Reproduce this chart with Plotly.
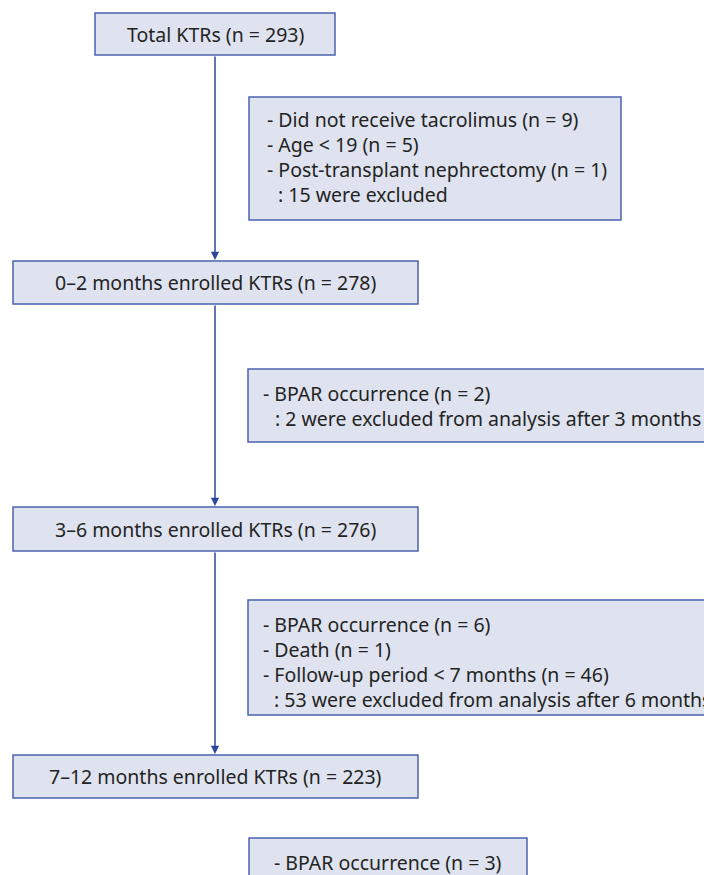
import plotly.graph_objects as go

# ---- content ----
main_labels = [
    "Total KTRs (n = 293)",
    "0–2 months enrolled KTRs (n = 278)",
    "3–6 months enrolled KTRs (n = 276)",
    "7–12 months enrolled KTRs (n = 223)",
]
excl_items = [
    ["- Did not receive tacrolimus (n = 9)", "- Age &lt; 19 (n = 5)", "- Post-transplant nephrectomy (n = 1)"],
    ["- BPAR occurrence (n = 2)"],
    ["- BPAR occurrence (n = 6)", "- Death (n = 1)", "- Follow-up period &lt; 7 months (n = 46)"],
    ["- BPAR occurrence (n = 3)"],
]
excl_summary = [
    ": 15 were excluded",
    ": 2 were excluded from analysis after 3 months",
    ": 53 were excluded from analysis after 6 months",
    None,
]

# ---- layout geometry (pixels) ----
W, H = 704, 875
main_boxes = [(95, 13, 335, 55), (13, 261, 418, 304), (13, 507, 418, 551), (13, 755, 418, 798)]
excl_boxes = [(249, 97, 621, 220), (248, 369, 712, 442), (248, 600, 712, 715), (249, 838, 527, 890)]
excl_first_y = [119, 393, 624, 862]
dash_off = [16, 13, 13]
colon_off = [27, 25, 24]
line_gap = 25
cx = 215

FILL = "#dfe3ef"
BORDER = "#4a63b0"
LINE = "#2d479c"
TXT = "#232323"
FONT = "Noto Sans"
FS = 19.5

fig = go.Figure()
shapes = []
annotations = []

for (x0, y0, x1, y1), lab in zip(main_boxes, main_labels):
    shapes.append(dict(type="rect", xref="x", yref="y", x0=x0, y0=y0, x1=x1, y1=y1,
                       fillcolor=FILL, line=dict(color=BORDER, width=1.5), layer="below"))
    annotations.append(dict(x=(x0 + x1) / 2, y=(y0 + y1) / 2, xref="x", yref="y", text=lab,
                            showarrow=False, font=dict(family=FONT, size=FS, color=TXT),
                            xanchor="center", yanchor="middle"))

for i, ((x0, y0, x1, y1), items) in enumerate(zip(excl_boxes, excl_items)):
    shapes.append(dict(type="rect", xref="x", yref="y", x0=x0, y0=y0, x1=x1, y1=y1,
                       fillcolor=FILL, line=dict(color=BORDER, width=1.5), layer="below"))
    y = excl_first_y[i]
    last = i == len(excl_boxes) - 1
    for t in items:
        if last:
            annotations.append(dict(x=(x0 + x1) / 2, y=y, xref="x", yref="y", text=t, showarrow=False,
                                    font=dict(family=FONT, size=FS, color=TXT), xanchor="center", yanchor="middle"))
        else:
            annotations.append(dict(x=x0 + dash_off[i], y=y, xref="x", yref="y", text=t, showarrow=False,
                                    font=dict(family=FONT, size=FS, color=TXT), xanchor="left", yanchor="middle"))
        y += line_gap
    if excl_summary[i]:
        annotations.append(dict(x=x0 + colon_off[i], y=y, xref="x", yref="y", text=excl_summary[i], showarrow=False,
                                font=dict(family=FONT, size=FS, color=TXT), xanchor="left", yanchor="middle"))

# connecting arrows
for a, b in zip(main_boxes[:-1], main_boxes[1:]):
    annotations.append(dict(x=cx, y=b[1] - 1, ax=cx, ay=a[3], xref="x", yref="y", axref="x", ayref="y",
                            text="", showarrow=True, arrowhead=2, arrowsize=1.1, arrowwidth=1.5,
                            arrowcolor=LINE))

fig.update_layout(
    width=W, height=H, margin=dict(l=0, r=0, t=0, b=0),
    paper_bgcolor="white", plot_bgcolor="white",
    xaxis=dict(range=[0, W], visible=False, fixedrange=True),
    yaxis=dict(range=[H, 0], visible=False, fixedrange=True),
    shapes=shapes, annotations=annotations, showlegend=False,
)
fig.write_html("out.html", config={"displayModeBar": False},
               post_script="document.body.style.margin='0';document.body.style.overflow='hidden';")
